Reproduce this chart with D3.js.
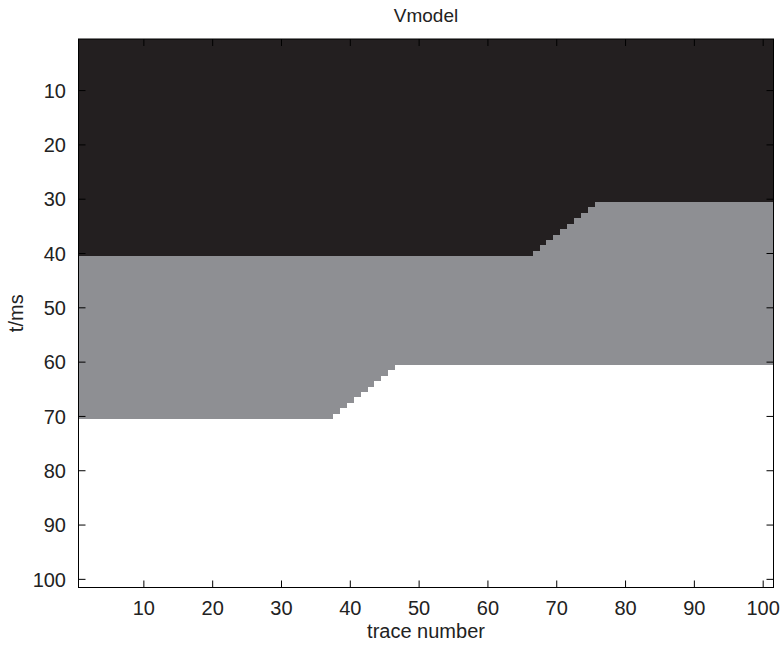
<!DOCTYPE html>
<html>
<head>
<meta charset="utf-8">
<script src="https://cdn.jsdelivr.net/npm/d3@7"></script>
<style>
  body { margin: 0; background: #fff; }
  svg { display: block; font-family: "Liberation Sans", Arial, Helvetica, sans-serif; }
</style>
</head>
<body>
<svg id="chart" width="783" height="645"></svg>
<script>
// Trace numbers 1..101
const traces = [
  1,2,3,4,5,6,7,8,9,10,11,12,13,14,15,16,17,18,19,20,
  21,22,23,24,25,26,27,28,29,30,31,32,33,34,35,36,37,38,39,40,
  41,42,43,44,45,46,47,48,49,50,51,52,53,54,55,56,57,58,59,60,
  61,62,63,64,65,66,67,68,69,70,71,72,73,74,75,76,77,78,79,80,
  81,82,83,84,85,86,87,88,89,90,91,92,93,94,95,96,97,98,99,100,101
];
// Last sample (ms) of layer 1 (dark) for each trace
const layer1Bottom = [
  40,40,40,40,40,40,40,40,40,40,40,40,40,40,40,40,40,40,40,40,
  40,40,40,40,40,40,40,40,40,40,40,40,40,40,40,40,40,40,40,40,
  40,40,40,40,40,40,40,40,40,40,40,40,40,40,40,40,40,40,40,40,
  40,40,40,40,40,40,39,38,37,36,35,34,33,32,31,30,30,30,30,30,
  30,30,30,30,30,30,30,30,30,30,30,30,30,30,30,30,30,30,30,30,30
];
// Last sample (ms) of layer 2 (grey) for each trace
const layer2Bottom = [
  70,70,70,70,70,70,70,70,70,70,70,70,70,70,70,70,70,70,70,70,
  70,70,70,70,70,70,70,70,70,70,70,70,70,70,70,70,70,69,68,67,
  66,65,64,63,62,61,60,60,60,60,60,60,60,60,60,60,60,60,60,60,
  60,60,60,60,60,60,60,60,60,60,60,60,60,60,60,60,60,60,60,60,
  60,60,60,60,60,60,60,60,60,60,60,60,60,60,60,60,60,60,60,60,60
];
const nSamples = 101;
const xTicks = [10,20,30,40,50,60,70,80,90,100];
const yTicks = [10,20,30,40,50,60,70,80,90,100];
const layerColors = ["#231f20", "#8e8f93", "#ffffff"];

const svg = d3.select("#chart");
const L = 78.5, R = 773.5, T = 39, B = 587.5;

const x = d3.scaleLinear().domain([0.5, traces.length + 0.5]).range([L, R]);
const y = d3.scaleLinear().domain([0.5, nSamples + 0.5]).range([T, B]);

// Build column segments
const segs = [];
traces.forEach((tr, i) => {
  const b1 = layer1Bottom[i], b2 = layer2Bottom[i];
  segs.push({tr, t0: 0.5, t1: b1 + 0.5, c: layerColors[0]});
  segs.push({tr, t0: b1 + 0.5, t1: b2 + 0.5, c: layerColors[1]});
  segs.push({tr, t0: b2 + 0.5, t1: nSamples + 0.5, c: layerColors[2]});
});

svg.append("g").attr("shape-rendering", "crispEdges")
  .selectAll("rect").data(segs).join("rect")
  .attr("x", d => x(d.tr - 0.5))
  .attr("width", d => x(d.tr + 0.5) - x(d.tr - 0.5) + 0.6)
  .attr("y", d => y(d.t0))
  .attr("height", d => y(d.t1) - y(d.t0))
  .attr("fill", d => d.c);

// Axes with inward ticks
const tickLen = 7;
const ax = svg.append("g").attr("stroke", "#000").attr("stroke-width", 1).attr("fill", "none");
ax.append("rect").attr("x", L).attr("y", T).attr("width", R - L).attr("height", B - T);

xTicks.forEach(v => {
  ax.append("line").attr("x1", x(v)).attr("x2", x(v)).attr("y1", B).attr("y2", B - tickLen);
  ax.append("line").attr("x1", x(v)).attr("x2", x(v)).attr("y1", T).attr("y2", T + tickLen);
});
yTicks.forEach(v => {
  ax.append("line").attr("x1", L).attr("x2", L + tickLen).attr("y1", y(v)).attr("y2", y(v));
  ax.append("line").attr("x1", R).attr("x2", R - tickLen).attr("y1", y(v)).attr("y2", y(v));
});

const txt = svg.append("g").attr("fill", "#222").attr("font-size", 20);
txt.selectAll(".xt").data(xTicks).join("text")
  .attr("x", d => x(d)).attr("y", 615).attr("text-anchor", "middle").text(d => d);
txt.selectAll(".yt").data(yTicks).join("text")
  .attr("x", 66).attr("y", d => y(d)).attr("dy", "0.36em").attr("text-anchor", "end").text(d => d);

txt.append("text").attr("x", (L + R) / 2).attr("y", 638).attr("text-anchor", "middle").text("trace number");
txt.append("text").attr("transform", `translate(23,${(T + B) / 2}) rotate(-90)`)
  .attr("text-anchor", "middle").text("t/ms");
txt.append("text").attr("x", (L + R) / 2).attr("y", 22).attr("text-anchor", "middle").attr("font-size", 19).text("Vmodel");
</script>
</body>
</html>
